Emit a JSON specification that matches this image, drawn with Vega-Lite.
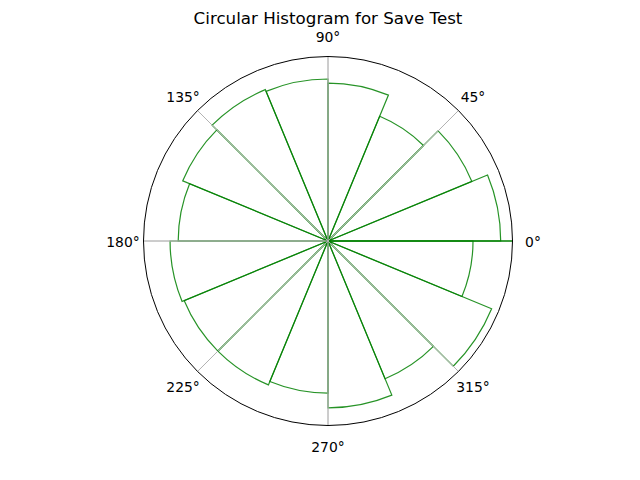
{
  "$schema": "https://vega.github.io/schema/vega-lite/v6.json",
  "autosize": {"type": "none"},
  "width": 368,
  "height": 368,
  "padding": {"left": 144, "top": 57, "right": 128, "bottom": 55},
  "background": "white",
  "title": {
    "text": "Circular Histogram for Save Test",
    "font": "DejaVu Sans",
    "fontSize": 16.7,
    "fontWeight": "normal",
    "color": "black",
    "anchor": "middle",
    "offset": 3
  },
  "config": {"view": {"stroke": null}},
  "datasets": {
    "bins": [
      {"start": 0, "end": 22.5, "count": 23.4},
      {"start": 22.5, "end": 45, "count": 21.1},
      {"start": 45, "end": 67.5, "count": 18.3},
      {"start": 67.5, "end": 90, "count": 21.4},
      {"start": 90, "end": 112.5, "count": 21.95},
      {"start": 112.5, "end": 135, "count": 22.2},
      {"start": 135, "end": 157.5, "count": 21.3},
      {"start": 157.5, "end": 180, "count": 20.3},
      {"start": 180, "end": 202.5, "count": 21.4},
      {"start": 202.5, "end": 225, "count": 21.1},
      {"start": 225, "end": 247.5, "count": 21.1},
      {"start": 247.5, "end": 270, "count": 20.6},
      {"start": 270, "end": 292.5, "count": 22.6},
      {"start": 292.5, "end": 315, "count": 20.2},
      {"start": 315, "end": 337.5, "count": 24.0},
      {"start": 337.5, "end": 360, "count": 19.65}
    ],
    "grid": [
      {"angle": 0, "label": "0°"},
      {"angle": 45, "label": "45°"},
      {"angle": 90, "label": "90°"},
      {"angle": 135, "label": "135°"},
      {"angle": 180, "label": "180°"},
      {"angle": 225, "label": "225°"},
      {"angle": 270, "label": "270°"},
      {"angle": 315, "label": "315°"}
    ]
  },
  "layer": [
    {
      "data": {"name": "bins"},
      "mark": {"type": "arc", "fill": null, "stroke": "#008000", "strokeOpacity": 0.85, "strokeWidth": 1.2},
      "encoding": {
        "theta": {"field": "start", "type": "quantitative", "stack": null,
          "scale": {"domain": [0, 360], "range": [1.5707963, -4.712389]}},
        "theta2": {"field": "end"},
        "radius": {"field": "count", "type": "quantitative",
          "scale": {"type": "linear", "domain": [0, 25], "range": [0, 184.5], "zero": true}}
      }
    },
    {
      "data": {"name": "grid"},
      "mark": {"type": "arc", "radius": 184.5, "fill": null},
      "encoding": {
        "theta": {"field": "angle", "type": "quantitative", "stack": null},
        "theta2": {"field": "angle"},
        "stroke": {"condition": {"test": "datum.angle == 0", "value": "#008000"}, "value": "#b0b0b0"},
        "strokeWidth": {"condition": {"test": "datum.angle == 0", "value": 1.6}, "value": 0.8}
      }
    },
    {
      "data": {"values": [{"k": 1}]},
      "mark": {"type": "arc", "radius": 184.5, "fill": null, "stroke": "black", "strokeWidth": 1},
      "encoding": {
        "theta": {"datum": 0, "type": "quantitative", "stack": null},
        "theta2": {"datum": 361}
      }
    },
    {
      "data": {"name": "grid"},
      "mark": {"type": "text", "radius": 205, "dy": 2, "font": "DejaVu Sans", "fontSize": 13.9, "color": "black", "align": "center", "baseline": "middle"},
      "encoding": {
        "theta": {"field": "angle", "type": "quantitative", "stack": null},
        "text": {"field": "label"}
      }
    }
  ]
}
